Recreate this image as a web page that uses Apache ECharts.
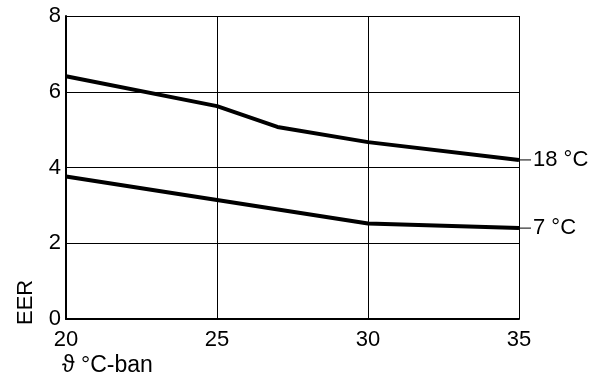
<!DOCTYPE html>
<html><head><meta charset="utf-8">
<script src="https://cdn.jsdelivr.net/npm/echarts@6/dist/echarts.min.js"></script>
<style>html,body{margin:0;padding:0;background:#fff}#c{width:599px;height:376px}</style>
</head><body><div id="c"></div>
<script>
const seriesNames = ['18 °C', '7 °C'];
const temps18 = [20, 25, 27, 30, 35];
const eer18 = [6.41, 5.62, 5.07, 4.67, 4.2];
const temps7 = [20, 25, 30, 35];
const eer7 = [3.76, 3.14, 2.52, 2.4];
const xName = 'ϑ °C-ban';
const yName = 'EER';

const font = 'Liberation Sans, Arial, sans-serif';
const fs = 22;
function mk(name, xs, ys) {
  return {
    type: 'line', name: name, data: xs.map((x, i) => [x, ys[i]]),
    symbol: 'none', lineStyle: { color: '#000', width: 4 }, silent: true,
    endLabel: {
      show: true, distance: 0, formatter: '{d|}{t|' + name + '}',
      rich: {
        d: { width: 12, height: 1, backgroundColor: '#000' },
        t: { fontSize: fs, fontFamily: font, color: '#000', padding: [0, 0, 0, 2] }
      }
    }
  };
}
const chart = echarts.init(document.getElementById('c'));
chart.setOption({
  animation: false,
  grid: { left: 66, right: 80, top: 16, bottom: 57, outerBoundsMode: 'none', containLabel: false },
  graphic: [
    { type: 'text', left: 62, top: 354, style: { text: xName, fontSize: 23, fontFamily: font, fill: '#000' } },
    { type: 'text', x: 15, y: 325, rotation: Math.PI / 2, style: { text: yName, fontSize: fs, fontFamily: font, fill: '#000', align: 'left', verticalAlign: 'top' } }
  ],
  xAxis: {
    type: 'value', min: 20, max: 35, interval: 5,
    axisLine: { lineStyle: { color: '#000', width: 2 } },
    axisTick: { show: false },
    axisLabel: { fontSize: fs, fontFamily: font, color: '#000', margin: 10 },
    splitLine: { show: true, lineStyle: { color: '#000', width: 1 } }
  },
  yAxis: {
    type: 'value', min: 0, max: 8, interval: 2,
    axisLine: { show: true, lineStyle: { color: '#000', width: 2 } },
    axisTick: { show: false },
    axisLabel: { fontSize: fs, fontFamily: font, color: '#000', margin: 5 },
    splitLine: { show: true, lineStyle: { color: '#000', width: 1 } }
  },
  series: [mk(seriesNames[0], temps18, eer18), mk(seriesNames[1], temps7, eer7)]
});
</script></body></html>
